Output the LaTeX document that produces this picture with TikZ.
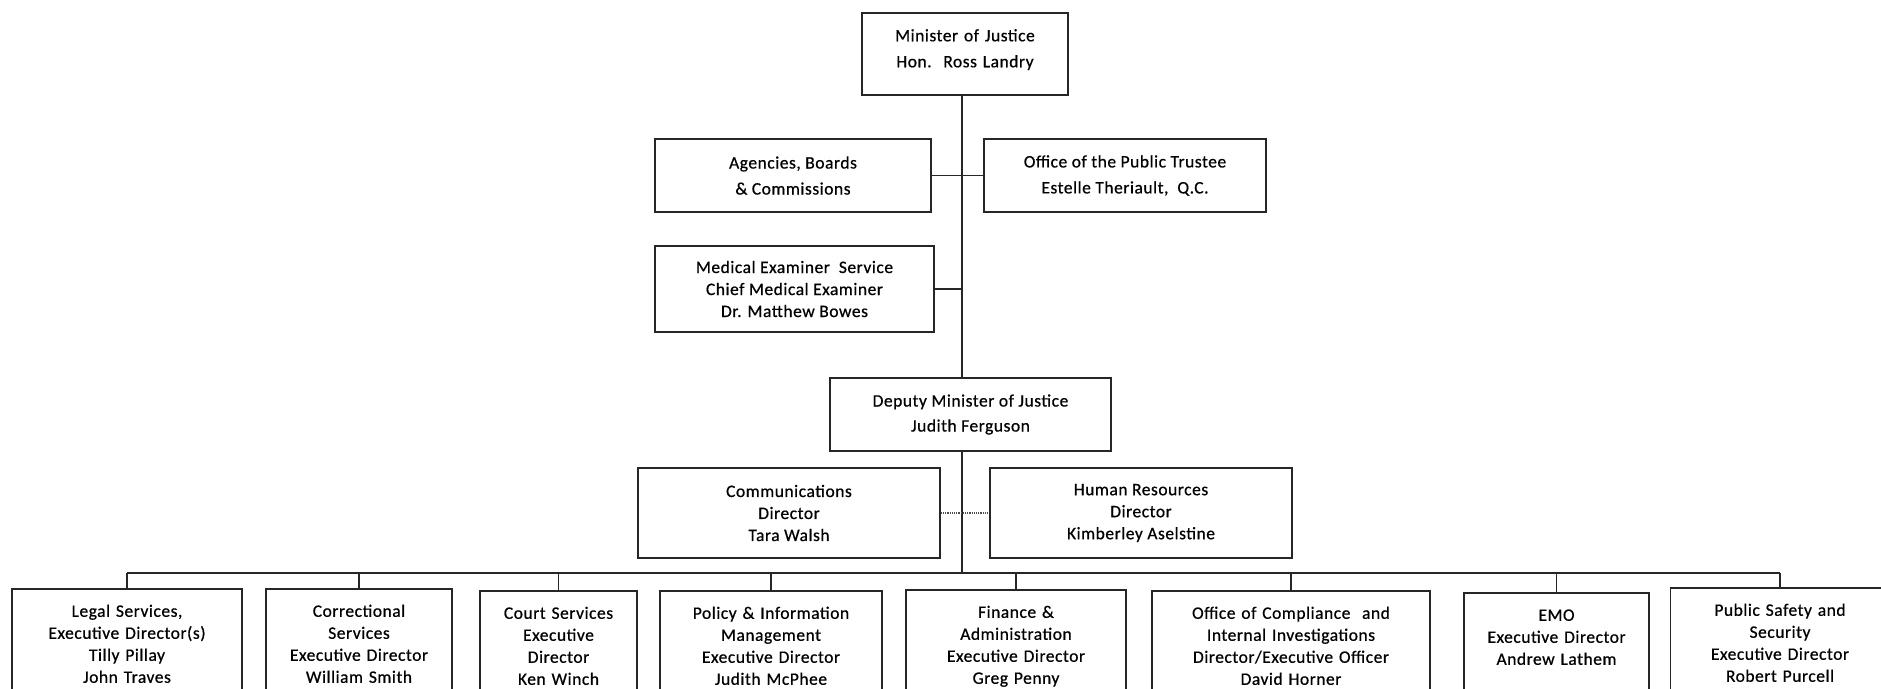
\documentclass[tikz,border=0pt]{standalone}
\usepackage{fontspec}
\setmainfont{Carlito}[FakeBold=0.6, LetterSpace=3]
\usetikzlibrary{positioning,calc}
\tikzset{
    post/.style={draw=black!85, line width=1.6pt, align=center, inner sep=4pt},
    unit/.style={draw=black!85, line width=1.6pt, anchor=north, align=center,
                 text width=#1, inner sep=0pt, text height=28pt, text depth=120pt},
    link/.style={draw=black!85, line width=1.3pt},
    dotlink/.style={draw=black!70, line width=1.2pt, densely dotted},
}

\begin{document}
\begin{tikzpicture}[x=1pt,y=-1pt,font=\fontsize{17.5}{22}\selectfont]
\useasboundingbox (0,0) rectangle (1881,688);

% minister level
\node[unit=206pt, text height=28.5pt, text depth=53.5pt] (minister) at (965,12)
    {Minister of Justice\\[4pt]Hon.\ \ Ross Landry};
\node[post, minimum width=276pt, minimum height=73pt] (agencies) at (793,175.5)
    {Agencies, Boards\\[4pt]\& Commissions};
\node[post, minimum width=282pt, minimum height=73pt] (trustee) at (1125,175.5)
    {Office of the Public Trustee\\[4pt]Estelle Theriault,\ \ Q.C.};
\node[post, minimum width=279pt, minimum height=86pt] (medical) at (794.5,289)
    {Medical Examiner\ \ Service\\Chief Medical Examiner\\Dr. Matthew Bowes};

% deputy level
\node[post, minimum width=281pt, minimum height=73pt] (deputy) at (970.5,414.5)
    {Deputy Minister of Justice\\[3pt]Judith Ferguson};
\node[post, minimum width=302pt, minimum height=90pt] (comms) at (789,513)
    {Communications\\Director\\Tara Walsh};
\node[post, minimum width=302pt, minimum height=90pt] (hr) at (1141,513)
    {Human Resources\\Director\\Kimberley Aselstine};

% divisions
\node[unit=230pt] (legal) at (127,588)
    {Legal Services,\\Executive Director(s)\\Tilly Pillay\\John Traves};
\node[unit=186pt] (corrections) at (359,588)
    {Correctional\\Services\\Executive Director\\William Smith};
\node[unit=157pt] (courts) at (558.5,590)
    {Court Services\\Executive\\Director\\Ken Winch};
\node[unit=222pt] (policy) at (771,590)
    {Policy \& Information\\Management\\Executive Director\\Judith McPhee};
\node[unit=220pt] (finance) at (1016,589)
    {Finance \&\\Administration\\Executive Director\\Greg Penny};
\node[unit=278pt] (compliance) at (1291,590)
    {Office of Compliance\ \ and\\Internal Investigations\\Director/Executive Officer\\David Horner};
\node[unit=185pt] (emo) at (1556.5,592)
    {EMO\\Executive Director\\Andrew Lathem};
\node[unit=219pt] (safety) at (1780,587)
    {Public Safety and\\Security\\Executive Director\\Robert Purcell};

% connectors
\coordinate (spine) at (962,0);
\coordinate (bus) at (0,573);
\draw[link] (minister.south -| spine) -- (deputy.north -| spine);
\draw[link] (deputy.south -| spine) -- (spine |- bus);
\draw[link] (agencies.east) -- (trustee.west);
\draw[link] (medical.east) -- (medical.east -| spine);
\draw[dotlink] (comms.east) -- (hr.west);
\draw[link] (legal.north |- bus) -- (safety.north |- bus);
\foreach \unit in {legal,corrections,courts,policy,finance,compliance,emo,safety}
    \draw[link] (\unit.north) -- (\unit.north |- bus);
\end{tikzpicture}
\end{document}
